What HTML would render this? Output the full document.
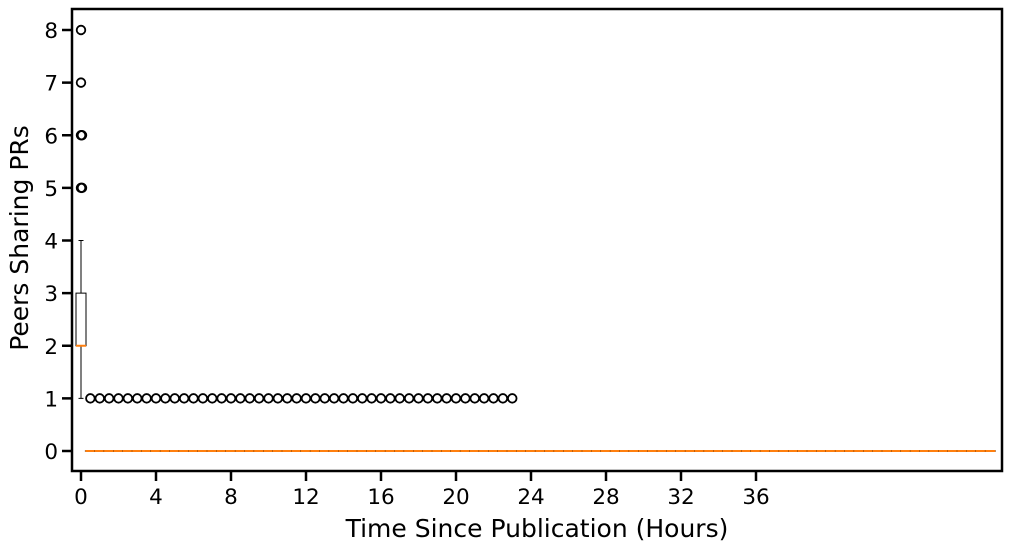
<!DOCTYPE html>
<html><head><meta charset="utf-8"><style>
body{margin:0;background:#fff;}
svg{display:block;font-family:"DejaVu Sans","Liberation Sans",sans-serif;}
</style></head><body>
<svg id="chart" width="1011" height="551">
<rect x="0" y="0" width="1011" height="551" fill="#fff"/>
<g id="marks"></g>
<g id="axes"></g>
</svg>
<script>
const hourTicks=[0,4,8,12,16,20,24,28,32,36];
const yTicks=[0,1,2,3,4,5,6,7,8];
const boxCount=98;
const firstBox={q1:2,median:2,q3:3,lo:1,hi:4,outliers:[5,5,6,6,7,8]};
const onesUntilIndex=46;
const otherOutlier=1;

const L=72,R=1002,T=9,B=471;
function xIdx(i){return 81+i*9.375;}
function xHour(h){return xIdx(h*2);}
function y(v){return 451-v*52.625;}
const NS="http://www.w3.org/2000/svg";
function el(tag,attrs,parent){const e=document.createElementNS(NS,tag);for(const k in attrs)e.setAttribute(k,attrs[k]);parent.appendChild(e);return e;}
const marks=document.getElementById('marks'),axes=document.getElementById('axes');
const hw=5;
for(let i=0;i<boxCount;i++){
  const cx=xIdx(i);
  const g=el('g',{},marks);
  
  
  let d;
  if(i===0){d=firstBox;}
  else d={q1:0,median:0,q3:0,lo:0,hi:0,outliers:(i<=onesUntilIndex)?[otherOutlier]:[]};
  el('line',{x1:cx,x2:cx,y1:y(d.lo),y2:y(d.q1),stroke:'#000','stroke-width':1},g);
  el('line',{x1:cx,x2:cx,y1:y(d.q3),y2:y(d.hi),stroke:'#000','stroke-width':1},g);
  el('line',{x1:cx-2.5,x2:cx+2.5,y1:y(d.lo),y2:y(d.lo),stroke:'#000','stroke-width':1},g);
  el('line',{x1:cx-2.5,x2:cx+2.5,y1:y(d.hi),y2:y(d.hi),stroke:'#000','stroke-width':1},g);
  el('rect',{x:cx-hw,y:y(d.q3),width:2*hw,height:Math.max(y(d.q1)-y(d.q3),0.01),fill:'none',stroke:'#000','stroke-width':1},g);
  el('line',{x1:cx-hw,x2:cx+hw,y1:y(d.median),y2:y(d.median),stroke:'#ff7f0e','stroke-width':2},g);
  const seen={};
  d.outliers.forEach(o=>{
    const off=seen[o]?1:0; seen[o]=1;
    const c=el('circle',{cx:cx+off,cy:y(o),r:4.3,fill:'none',stroke:'#000','stroke-width':1.8},g);
    
    
  });
}
el('rect',{x:L,y:T,width:R-L,height:B-T,fill:'none',stroke:'#000','stroke-width':2.5},axes);
yTicks.forEach(v=>{
  el('line',{x1:L-10,x2:L,y1:y(v),y2:y(v),stroke:'#000','stroke-width':2.5},axes);
  const t=el('text',{x:L-14,y:y(v)+8,'text-anchor':'end','font-size':21.5,fill:'#000'},axes);
  t.textContent=v;
  
  
});
hourTicks.forEach(h=>{
  const x=xHour(h);
  el('line',{x1:x,x2:x,y1:B,y2:B+10,stroke:'#000','stroke-width':2.5},axes);
  const t=el('text',{x:x,y:B+33,'text-anchor':'middle','font-size':21.5,fill:'#000'},axes);
  t.textContent=h;
  
  
});
const xt=el('text',{x:537,y:537,'text-anchor':'middle','font-size':25,fill:'#000'},axes);
xt.textContent='Time Since Publication (Hours)';


const yt=el('text',{x:0,y:0,'text-anchor':'middle','font-size':25,fill:'#000',transform:'translate(28,238) rotate(-90)'},axes);
yt.textContent='Peers Sharing PRs';


</script>
</body></html>
